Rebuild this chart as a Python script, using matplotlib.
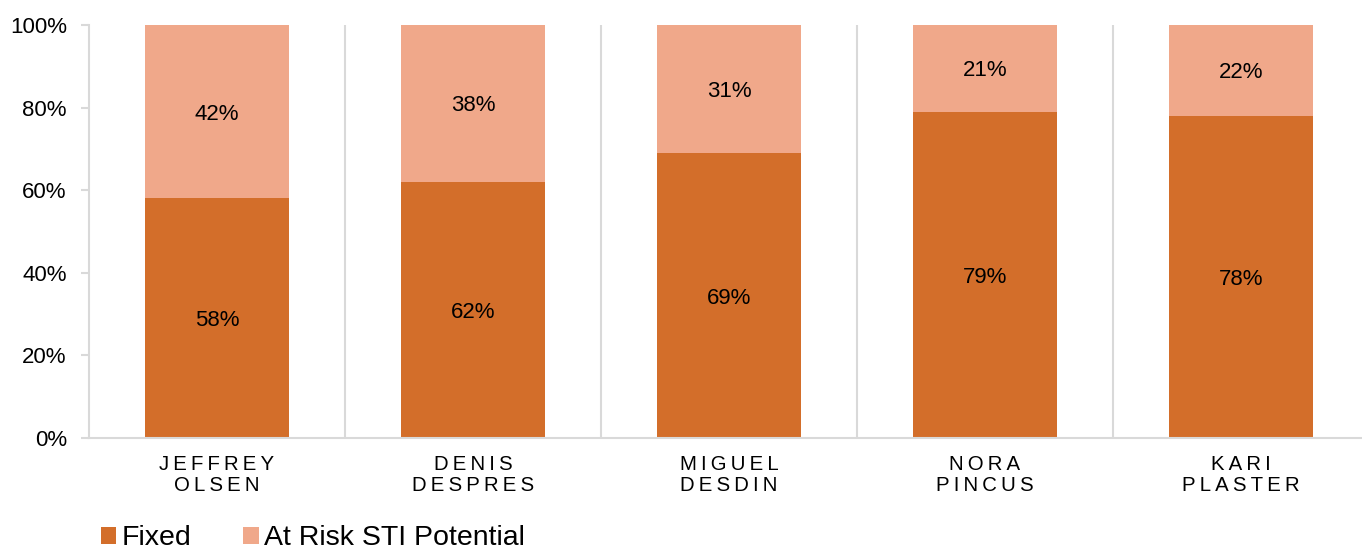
import matplotlib.pyplot as plt
import numpy as np

plt.rcParams["font.family"] = ["Liberation Sans", "DejaVu Sans"]

names = ["JEFFREY\nOLSEN", "DENIS\nDESPRES", "MIGUEL\nDESDIN", "NORA\nPINCUS", "KARI\nPLASTER"]
fixed = [58, 62, 69, 79, 78]
at_risk = [42, 38, 31, 21, 22]
series = ["Fixed", "At Risk STI Potential"]

C_FIXED = "#D36E2A"
C_RISK = "#F0A88A"
GRID = "#D9D9D9"


def spaced(label):
    # espacement des lettres façon Excel
    return "\n".join("\u2009".join(line) for line in label.split("\n"))


fig = plt.figure(figsize=(13.62, 5.53), dpi=100)
ax = fig.add_axes([89 / 1362, 115 / 553, 1280 / 1362, 413 / 553])

x = np.arange(len(names))
w = 0.56
ax.bar(x, fixed, w, color=C_FIXED, label=series[0])
ax.bar(x, at_risk, w, bottom=fixed, color=C_RISK, label=series[1])

for i in range(len(names)):
    ax.text(x[i], fixed[i] / 2, f"{fixed[i]}%", ha="center", va="center_baseline", fontsize=16)
    ax.text(x[i], fixed[i] + at_risk[i] / 2, f"{at_risk[i]}%", ha="center",
            va="center_baseline", fontsize=16)

# séparateurs verticaux entre catégories
for b in x[:-1] + 0.5:
    ax.axvline(b, color=GRID, lw=1.5, zorder=0)

ax.set_xlim(-0.5, len(names) - 0.5)
ax.set_ylim(0, 100)
ax.set_yticks(np.arange(0, 101, 20))
ax.set_yticklabels([f"{v}%" for v in range(0, 101, 20)])
ax.set_xticks(x)
ax.set_xticklabels([spaced(n) for n in names], linespacing=1.15)

for s in ["top", "right"]:
    ax.spines[s].set_visible(False)
for s in ["left", "bottom"]:
    ax.spines[s].set_color(GRID)
    ax.spines[s].set_linewidth(1.5)
ax.tick_params(axis="y", length=6, width=1.5, color=GRID, labelsize=16, pad=10)
ax.tick_params(axis="x", length=0, labelsize=14.7, pad=12)

fig.legend(
    loc="lower left",
    bbox_to_anchor=(75 / 1362, -0.043),
    ncol=2,
    frameon=False,
    fontsize=20.5,
    handlelength=0.55,
    handleheight=0.55,
    handletextpad=0.2,
    columnspacing=1.8,
)

fig.savefig("out.png", dpi=100)
